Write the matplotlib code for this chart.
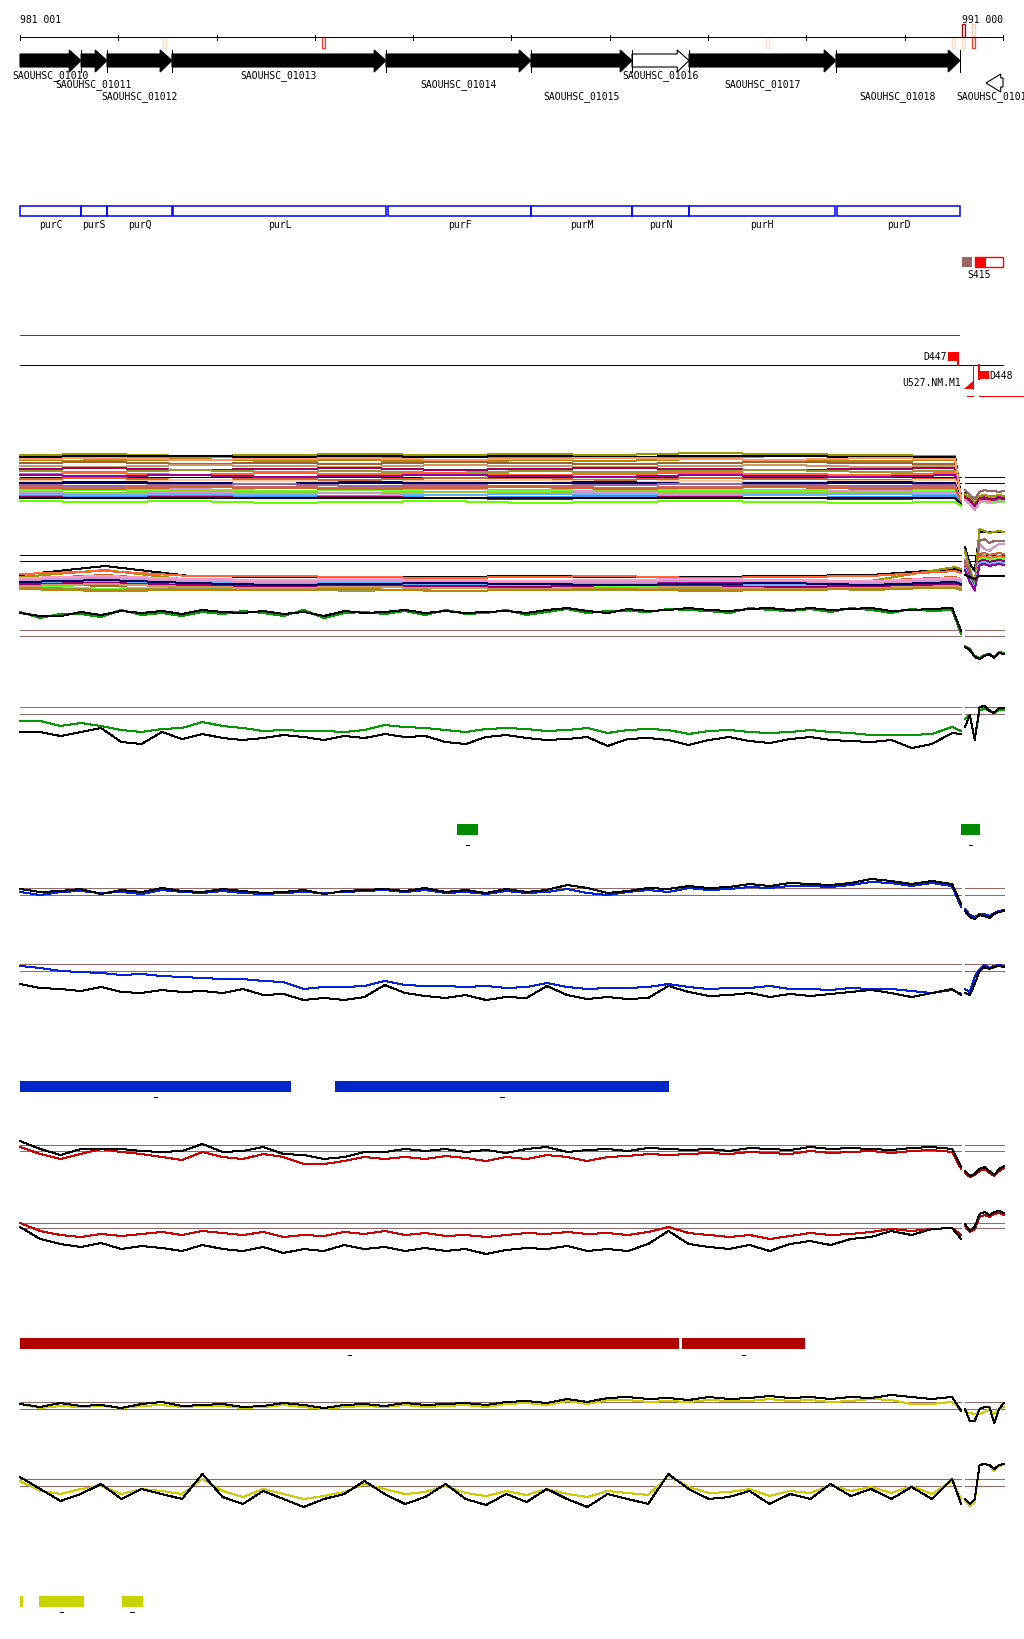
import numpy as np
import matplotlib
matplotlib.use("Agg")
import matplotlib.pyplot as plt
from matplotlib.patches import Polygon, Rectangle

plt.rcParams["lines.antialiased"] = False

# ---------------- data ----------------
region_start, region_end = 981001, 991000

gene_names = ["SAOUHSC_01010", "SAOUHSC_01011", "SAOUHSC_01012", "SAOUHSC_01013",
              "SAOUHSC_01014", "SAOUHSC_01015", "SAOUHSC_01016", "SAOUHSC_01017",
              "SAOUHSC_01018", "SAOUHSC_01019"]
gene_starts = [981001, 981622, 981886, 982547, 984724, 986199, 987227, 987807, 989302, 990828]
gene_ends = [981622, 981886, 982547, 984724, 986199, 987227, 987807, 989302, 990564, 991001]
gene_strands = [1, 1, 1, 1, 1, 1, 1, 1, 1, -1]
gene_filled = [True, True, True, True, True, True, False, True, True, False]

operon_names = ["purC", "purS", "purQ", "purL", "purF", "purM", "purN", "purH", "purD"]
operon_starts = [981001, 981622, 981886, 982557, 984744, 986199, 987227, 987807, 989312]
operon_ends = [981622, 981886, 982547, 984724, 986199, 987227, 987807, 989292, 990564]

mark_pos = [982453, 984073, 988587, 990482, 990584, 990686]
mark_upper = [0, 0, 0, 0, 0.9, 0.2]
mark_lower = [0.15, 0.6, 0.12, 0.15, 0.15, 0.6]

green_regions = [(985447, 985660), (990574, 990767)]
blue_regions = [(981001, 983758), (984205, 987603)]
red_regions = [(981001, 987705), (987736, 988987)]
yellow_regions = [(981001, 981032), (981194, 981652), (982038, 982251)]
yellow_labelled = [False, True, True]

# sample positions of the signal tracks
main_x = np.append(np.linspace(981001, 990483, 47), 990575)
bundle_x = np.append(np.linspace(981001, 990514, 12), 990575)
right_x = np.linspace(990614, 991011, 9)

# track 1 : many conditions
t1_colors = ["#999900", "#ff6633", "black", "#b8860b", "#996633", "#cc9966", "#990066",
             "#999933", "#ff6633", "#990099", "#cc6633", "#ffcc99", "#000066", "#996699",
             "#cc6666", "#cc99cc", "#66ff33", "#99cc33", "#cc99cc", "#66b2ff", "#3399ff",
             "#990066", "#cc6633", "#ff9966", "black", "#66ff00"]
t1_values = [
    [64, 65, 63, 64, 65, 64, 65, 64, 66, 65, 64, 63, 22],
    [62, 60, 62, 61, 60, 62, 61, 62, 61, 63, 62, 61, 20],
    [62, 63, 63, 62, 63, 62, 63, 62, 63, 63, 62, 62, 21],
    [59, 58, 60, 58, 59, 57, 59, 58, 60, 59, 58, 59, 19],
    [56, 57, 55, 56, 55, 57, 56, 55, 56, 57, 56, 55, 21],
    [53, 52, 54, 53, 52, 54, 53, 52, 53, 54, 52, 53, 18],
    [50, 51, 49, 50, 51, 49, 50, 51, 50, 49, 50, 51, 20],
    [48, 47, 49, 47, 48, 46, 48, 47, 48, 49, 47, 48, 17],
    [45, 46, 44, 46, 45, 46, 44, 45, 46, 45, 44, 46, 19],
    [44, 43, 44, 42, 43, 44, 43, 42, 44, 43, 42, 44, 18],
    [40, 41, 39, 40, 39, 41, 40, 39, 41, 40, 39, 40, 17],
    [38, 37, 39, 38, 37, 38, 39, 37, 38, 37, 38, 39, 20],
    [36, 37, 36, 35, 37, 36, 36, 37, 35, 36, 37, 36, 18],
    [34, 33, 34, 35, 33, 34, 33, 34, 35, 34, 33, 34, 16],
    [32, 31, 33, 32, 31, 32, 33, 31, 32, 33, 31, 32, 19],
    [30, 29, 30, 28, 29, 30, 29, 28, 30, 29, 28, 29, 17],
    [28, 29, 27, 28, 29, 27, 28, 27, 29, 28, 27, 28, 15],
    [27, 26, 28, 27, 26, 27, 26, 28, 27, 26, 27, 26, 16],
    [26, 25, 26, 25, 26, 24, 25, 26, 25, 24, 25, 26, 17],
    [25, 24, 25, 24, 23, 24, 25, 24, 23, 24, 25, 24, 15],
    [23, 22, 23, 22, 23, 21, 22, 23, 22, 21, 22, 23, 16],
    [22, 21, 22, 21, 22, 21, 20, 21, 22, 21, 20, 21, 15],
    [31, 30, 32, 31, 30, 31, 32, 30, 31, 32, 30, 31, 18],
    [60, 61, 59, 60, 61, 59, 60, 61, 60, 59, 61, 60, 20],
    [21, 21, 21, 21, 21, 21, 21, 21, 21, 21, 21, 21, 14],
    [18, 17, 18, 16, 17, 18, 16, 17, 18, 17, 16, 17, 13],
]
t1_right_colors = ["#996666", "black", "#cc6633", "#66b2ff", "#66ff33", "#990099",
                   "#999900", "#ff6633", "#cc99cc", "#990066"]
t1_right_values = [
    [29, 24, 20, 27, 29, 28, 28, 27, 28],
    [26, 18, 10, 18, 18, 16, 17, 18, 18],
    [24, 20, 12, 22, 24, 23, 22, 22, 23],
    [22, 18, 14, 20, 21, 20, 21, 20, 21],
    [20, 16, 10, 18, 17, 16, 16, 18, 17],
    [23, 19, 15, 21, 22, 21, 20, 22, 21],
    [25, 21, 16, 23, 24, 22, 23, 24, 23],
    [21, 17, 11, 19, 20, 19, 18, 20, 19],
    [19, 15, 9, 17, 18, 17, 18, 17, 18],
    [22, 19, 13, 21, 20, 20, 19, 21, 20],
]
t1_refs = [42, 36]

# track 2 : many conditions
t2_colors = ["black", "#999900", "#ff6633", "#cc6633", "#990099", "#996633", "#66b2ff",
             "#cc99cc", "#66ff33", "#999933", "#ff99cc", "#990066", "#cc9966", "#000066",
             "#b8860b"]
t2_values = [
    [24, 33, 23, 22, 22, 22, 23, 22, 22, 23, 24, 30, 28],
    [22, 29, 19, 18, 16, 17, 16, 15, 17, 16, 18, 32, 30],
    [25, 28, 23, 23, 22, 21, 22, 23, 21, 22, 23, 28, 26],
    [20, 24, 18, 18, 17, 19, 18, 17, 18, 19, 18, 22, 20],
    [18, 20, 17, 16, 17, 15, 16, 17, 16, 15, 16, 18, 17],
    [16, 13, 15, 12, 13, 14, 13, 12, 13, 14, 13, 15, 14],
    [17, 18, 16, 15, 16, 15, 14, 16, 15, 14, 15, 17, 16],
    [19, 21, 18, 17, 18, 17, 16, 17, 18, 17, 16, 19, 18],
    [14, 10, 13, 12, 13, 12, 11, 12, 13, 12, 11, 14, 12],
    [12, 9, 11, 10, 8, 11, 10, 9, 10, 11, 9, 12, 10],
    [21, 23, 20, 19, 20, 19, 18, 19, 20, 19, 18, 21, 20],
    [15, 16, 14, 13, 14, 13, 12, 14, 13, 12, 13, 15, 14],
    [13, 15, 12, 11, 12, 11, 10, 11, 12, 10, 11, 13, 12],
    [17, 19, 16, 14, 15, 16, 15, 14, 15, 16, 14, 17, 15],
    [10, 8, 9, 9, 10, 8, 9, 10, 8, 9, 10, 11, 9],
]
t2_right_colors = ["black", "#999900", "#cc99cc", "#996666", "#cc6633", "#ff6633",
                   "#66ff33", "#990066", "#66b2ff", "#990099", "black"]
t2_right_values = [
    [52, 35, 28, 67, 67, 67, 67, 67, 67],
    [48, 30, 15, 70, 68, 66, 67, 68, 67],
    [40, 25, 12, 55, 50, 48, 52, 55, 55],
    [38, 28, 14, 58, 60, 56, 58, 58, 58],
    [35, 22, 10, 45, 46, 44, 45, 46, 45],
    [33, 20, 8, 42, 43, 41, 42, 43, 42],
    [30, 18, 12, 40, 41, 39, 40, 41, 40],
    [32, 21, 10, 38, 39, 37, 38, 39, 38],
    [31, 19, 11, 36, 37, 35, 36, 37, 36],
    [29, 17, 9, 34, 35, 33, 34, 35, 34],
    [24, 22, 20, 23, 23, 23, 23, 23, 23],
]
t2_refs = [44, 38]

# tracks 3..10 : one condition (black) against one coloured condition
t3_black = [51, 48, 48, 52, 49, 53, 51, 53, 50, 54, 52, 51, 53, 50, 52, 48, 53, 51, 52, 54,
            51, 53, 51, 52, 53, 51, 54, 56, 53, 51, 55, 53, 54, 56, 54, 53, 55, 56, 54, 56,
            54, 55, 56, 53, 54, 55, 56, 33]
t3_green = [52, 46, 50, 50, 47, 54, 49, 51, 48, 52, 50, 53, 51, 48, 54, 46, 51, 52, 50, 53,
            49, 54, 50, 51, 54, 49, 52, 55, 51, 53, 53, 52, 55, 54, 53, 51, 56, 54, 53, 55,
            52, 56, 54, 51, 55, 53, 54, 30]
t3_black_right = [17, 14, 7, 5, 8, 10, 6, 11, 10]
t3_green_right = [18, 15, 8, 6, 9, 10, 7, 12, 11]
t3_refs = [34, 28]

t4_black = [27, 27, 23, 27, 31, 17, 15, 27, 20, 25, 21, 19, 21, 24, 22, 19, 23, 21, 25, 22,
            23, 17, 15, 22, 24, 21, 19, 20, 22, 13, 20, 21, 19, 14, 19, 22, 18, 16, 20, 22,
            19, 18, 17, 19, 11, 15, 26, 25]
t4_green = [38, 38, 33, 36, 33, 29, 27, 30, 31, 37, 33, 31, 28, 29, 28, 28, 27, 29, 34, 32,
            31, 29, 27, 30, 31, 30, 28, 29, 31, 26, 29, 30, 29, 25, 28, 29, 27, 26, 27, 29,
            27, 26, 24, 24, 24, 25, 32, 28]
t4_black_right = [32, 44, 19, 52, 53, 48, 46, 51, 51]
t4_green_right = [40, 44, 20, 49, 50, 49, 46, 49, 49]
t4_refs = [52, 45]

t5_black = [40, 37, 38, 40, 35, 39, 37, 41, 38, 37, 40, 38, 36, 37, 39, 35, 38, 39, 40, 38,
            41, 37, 39, 36, 40, 37, 39, 44, 41, 36, 38, 41, 40, 43, 41, 42, 45, 43, 46, 45,
            44, 46, 50, 48, 45, 48, 45, 25]
t5_blue = [37, 34, 37, 38, 36, 37, 35, 39, 37, 36, 38, 36, 35, 36, 37, 36, 37, 38, 39, 37,
           39, 36, 37, 35, 38, 36, 37, 40, 36, 34, 37, 39, 37, 41, 39, 40, 42, 41, 43, 43,
           42, 44, 47, 46, 43, 46, 43, 22]
t5_black_right = [18, 12, 10, 14, 13, 11, 15, 17, 18]
t5_blue_right = [20, 14, 12, 15, 15, 13, 16, 18, 19]
t5_refs = [41, 34]

t6_blue = [53, 51, 48, 47, 46, 44, 45, 43, 42, 41, 40, 40, 38, 37, 30, 32, 32, 33, 38, 34,
           33, 33, 32, 33, 31, 32, 36, 32, 30, 31, 31, 32, 35, 32, 30, 31, 31, 33, 30, 30,
           29, 31, 30, 30, 28, 26, 29, 25]
t6_black = [35, 31, 30, 28, 32, 27, 26, 29, 27, 28, 26, 30, 24, 25, 19, 21, 19, 22, 34, 26,
            23, 21, 24, 19, 22, 21, 33, 24, 20, 22, 20, 21, 33, 27, 23, 24, 26, 22, 25, 23,
            25, 27, 29, 26, 22, 26, 30, 24]
t6_black_right = [26, 24, 35, 48, 52, 50, 52, 53, 52]
t6_blue_right = [30, 27, 42, 50, 54, 51, 53, 54, 53]
t6_refs = [55, 48]

t7_black = [48, 40, 34, 40, 40, 40, 38, 37, 38, 45, 37, 38, 42, 35, 34, 30, 32, 37, 37, 40,
            38, 40, 37, 39, 36, 40, 42, 37, 39, 40, 38, 41, 40, 39, 40, 38, 41, 40, 39, 42,
            40, 41, 40, 39, 41, 42, 40, 22]
t7_red = [42, 35, 30, 35, 40, 37, 35, 32, 29, 37, 32, 30, 35, 32, 25, 25, 28, 32, 30, 32,
          30, 33, 31, 28, 32, 30, 34, 32, 28, 32, 33, 35, 34, 35, 36, 35, 37, 36, 35, 38,
          36, 37, 38, 36, 38, 39, 37, 20]
t7_black_right = [18, 13, 15, 20, 22, 18, 14, 20, 23]
t7_red_right = [16, 12, 14, 18, 20, 16, 13, 18, 21]
t7_refs = [44, 38]

t8_red = [46, 38, 34, 32, 35, 33, 35, 37, 34, 38, 36, 34, 37, 32, 34, 33, 37, 35, 38, 34,
          36, 33, 34, 32, 34, 36, 35, 37, 35, 36, 34, 37, 42, 36, 34, 32, 34, 30, 33, 36,
          34, 35, 37, 40, 38, 40, 41, 34]
t8_black = [42, 30, 25, 22, 26, 20, 23, 21, 18, 24, 20, 18, 22, 16, 20, 18, 24, 20, 22, 18,
            21, 18, 20, 15, 19, 21, 20, 23, 18, 20, 18, 25, 38, 25, 22, 20, 24, 18, 25, 28,
            24, 30, 32, 38, 34, 40, 41, 30]
t8_black_right = [45, 38, 42, 55, 57, 54, 57, 58, 56]
t8_red_right = [43, 37, 40, 52, 54, 52, 55, 56, 54]
t8_refs = [46, 41]

t9_black = [35, 32, 36, 33, 34, 31, 35, 37, 33, 34, 35, 32, 33, 36, 34, 31, 34, 35, 33, 36,
            34, 35, 36, 34, 37, 38, 36, 40, 37, 41, 42, 40, 41, 39, 42, 40, 41, 43, 41, 42,
            40, 42, 41, 44, 42, 40, 42, 28]
t9_yellow = [35, 31, 33, 32, 33, 31, 33, 34, 32, 33, 33, 31, 32, 34, 32, 30, 32, 33, 32, 34,
             32, 33, 34, 32, 35, 36, 34, 38, 35, 39, 39, 37, 38, 37, 39, 38, 38, 40, 38, 39,
             37, 38, 40, 39, 35, 35, 37, 30]
t9_black_right = [30, 18, 18, 30, 32, 32, 16, 30, 36]
t9_yellow_right = [27, 26, 25, 25, 27, 30, 25, 30, 32]
t9_refs = [37, 30]

t10_black = [52, 40, 28, 35, 45, 30, 40, 35, 30, 55, 32, 25, 38, 30, 22, 30, 35, 48, 35, 25,
             32, 45, 30, 24, 35, 27, 40, 30, 22, 35, 30, 25, 55, 40, 30, 32, 38, 25, 35, 30,
             45, 33, 40, 30, 42, 30, 50, 25]
t10_yellow = [48, 38, 35, 40, 43, 35, 40, 38, 35, 50, 38, 32, 40, 35, 30, 33, 37, 45, 40, 35,
              37, 43, 36, 33, 38, 34, 40, 35, 32, 38, 36, 34, 53, 42, 36, 37, 40, 33, 38, 36,
              44, 38, 42, 36, 43, 35, 48, 30]
t10_black_right = [30, 25, 30, 64, 65, 64, 60, 64, 65]
t10_yellow_right = [28, 23, 27, 64, 65, 64, 58, 63, 64]
t10_refs = [50, 43]

# ---------------- layout ----------------
W, H = 1024, 1640
BP_PER_PX = 10.173
XL = region_start - 20 * BP_PER_PX
XR = region_start + (W - 20) * BP_PER_PX
MONO = "DejaVu Sans Mono"
FS = 7
REF = "#996666"
TRACK_H = 80
LW = 0.72   # one pixel

fig = plt.figure(figsize=(W / 100, H / 100), dpi=100)
ax = fig.add_axes([0, 0, 1, 1])
ax.set_xlim(XL, XR)
ax.set_ylim(H, 0)
ax.axis("off")

# ruler
ax.plot([region_start, region_end + 1], [38, 38], color="black", lw=LW)
for k in range(11):
    ax.plot([region_start + 1000 * k] * 2, [35.5, 40.5], color="black", lw=LW)
ax.text(region_start, 20, "981 001", fontsize=FS, family=MONO, va="center", ha="left")
ax.text(region_end, 20, "991 000", fontsize=FS, family=MONO, va="center", ha="right")

cmap = plt.get_cmap("Reds")
for pos, up, lo in zip(mark_pos, mark_upper, mark_lower):
    if up > 0:
        ax.add_patch(Rectangle((pos, 25), 30, 13, fill=False, lw=1, ec=cmap(up)))
    ax.add_patch(Rectangle((pos, 38), 30, 11, fill=False, lw=1, ec=cmap(lo)))

# genes
label_rows = [76, 85, 97, 76, 85, 97, 76, 85, 97, 97]
head = 120
for name, s, e, st, filled, row in zip(gene_names, gene_starts, gene_ends,
                                       gene_strands, gene_filled, label_rows):
    if st > 0:
        y0, y1, cy = 55, 68, 61.5
        pts = [(s, y0), (e - head, y0), (e - head, 51), (e, cy),
               (e - head, 73), (e - head, y1), (s, y1)]
        ax.plot([e, e], [51, 73], color="black", lw=LW)
    else:
        y0, y1, cy = 79, 88, 84
        pts = [(e, y0), (s + 150, y0), (s + 150, 75), (s, cy),
               (s + 150, 93), (s + 150, y1), (e, y1)]
    ax.add_patch(Polygon(pts, closed=True, fc="black" if filled else "white",
                         ec="black", lw=0.8))
    ax.text((s + e) / 2, row, name, fontsize=FS, family=MONO, ha="center", va="center")

# operon genes
for name, s, e in zip(operon_names, operon_starts, operon_ends):
    ax.add_patch(Rectangle((s, 207), e - s, 10, fill=False, ec="#0000ff", lw=1.1))
    ax.text((s + e) / 2, 225, name, fontsize=FS, family=MONO, ha="center", va="center")

# S415 and promoter annotations
ax.add_patch(Rectangle((990584, 258), 100, 10, fc="#996666", ec="none"))
ax.add_patch(Rectangle((990716, 258), 285, 10, fc="white", ec="red", lw=1))
ax.add_patch(Rectangle((990716, 258), 112, 10, fc="red", ec="none"))
ax.text(990757, 275, "S415", fontsize=FS, family=MONO, ha="center", va="center")

ax.plot([region_start, 990553], [336, 336], color="red", lw=LW)
ax.plot([region_start, region_end + 1], [366, 366], color="black", lw=LW)
ax.add_patch(Rectangle((990442, 353), 110, 9, fc="red", ec="none"))
ax.plot([990548, 990548], [362, 366], color="red", lw=1.4)
ax.text(990432, 357, "D447", fontsize=FS, family=MONO, ha="right", va="center")
ax.plot([990757, 990757], [366, 380], color="red", lw=1.4)
ax.add_patch(Rectangle((990757, 372), 100, 8, fc="red", ec="none"))
ax.text(990862, 376, "D448", fontsize=FS, family=MONO, ha="left", va="center")
ax.plot([990693, 990693], [366, 390], color="red", lw=LW)
ax.add_patch(Polygon([(990600, 390), (990693, 390), (990693, 382)], fc="red", ec="none"))
ax.text(990575, 383, "U527.NM.M1", fontsize=FS, family=MONO, ha="right", va="center")
ax.plot([990635, 990693], [397, 397], color="red", lw=LW)
ax.plot([990757, XR], [397, 397], color="red", lw=LW)


def bars(regions, top, color, labelled=None, dash_row=None):
    for i, (s, e) in enumerate(regions):
        ax.add_patch(Rectangle((s, top), e - s, 11, fc=color, ec="none"))
        if labelled is None or labelled[i]:
            ax.plot([(s + e) / 2 - 20, (s + e) / 2 + 20], [dash_row] * 2, color="black", lw=LW)


bars(green_regions, 825, "#008c00", dash_row=846)
bars(blue_regions, 1082, "#0028c8", dash_row=1098)
bars(red_regions, 1339, "#b00000", dash_row=1356)
bars(yellow_regions, 1597, "#c8d400", yellow_labelled, dash_row=1613)


def track(bottom):
    t = fig.add_axes([0, 1 - bottom / H, 1, TRACK_H / H])
    t.set_xlim(XL, XR)
    t.set_ylim(0, TRACK_H)
    t.axis("off")
    return t


def refs(t, levels, color=REF):
    for lv in levels:
        t.plot([region_start, main_x[-1]], [lv, lv], color=color, lw=LW)
        t.plot([right_x[0], right_x[-1]], [lv, lv], color=color, lw=LW)


# bundles
t1 = track(520)
refs(t1, t1_refs, "black")
for c, v in zip(t1_colors, t1_values):
    t1.plot(bundle_x, v, color=c, lw=LW)
for c, v in zip(t1_right_colors, t1_right_values):
    t1.plot(right_x, v, color=c, lw=LW)

t2 = track(600)
refs(t2, t2_refs, "black")
for c, v in zip(t2_colors, t2_values):
    t2.plot(bundle_x, v, color=c, lw=LW)
for c, v in zip(t2_right_colors, t2_right_values):
    t2.plot(right_x, v, color=c, lw=LW)

pairs = [
    (665, t3_refs, t3_black, t3_green, t3_black_right, t3_green_right, "#009900"),
    (760, t4_refs, t4_black, t4_green, t4_black_right, t4_green_right, "#009900"),
    (930, t5_refs, t5_black, t5_blue, t5_black_right, t5_blue_right, "#0022dd"),
    (1020, t6_refs, t6_black, t6_blue, t6_black_right, t6_blue_right, "#0022dd"),
    (1190, t7_refs, t7_black, t7_red, t7_black_right, t7_red_right, "#cc0000"),
    (1270, t8_refs, t8_black, t8_red, t8_black_right, t8_red_right, "#cc0000"),
    (1440, t9_refs, t9_black, t9_yellow, t9_black_right, t9_yellow_right, "#cccc00"),
    (1530, t10_refs, t10_black, t10_yellow, t10_black_right, t10_yellow_right, "#cccc00"),
]
for bottom, rl, blk, col, blk_r, col_r, color in pairs:
    t = track(bottom)
    refs(t, rl)
    t.plot(main_x, col, color=color, lw=LW)
    t.plot(main_x, blk, color="black", lw=LW)
    t.plot(right_x, col_r, color=color, lw=LW)
    t.plot(right_x, blk_r, color="black", lw=LW)

fig.savefig("out.png", dpi=100, facecolor="white")
